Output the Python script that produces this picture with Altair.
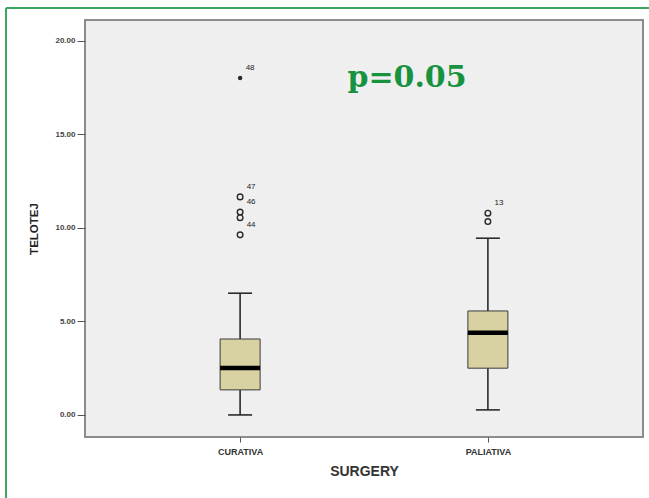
import altair as alt
import pandas as pd

categories = ["CURATIVA", "PALIATIVA"]
whisker_low = [0.0, 0.27]
q1 = [1.34, 2.50]
median = [2.51, 4.40]
q3 = [4.06, 5.56]
whisker_high = [6.51, 9.45]

outlier_group = ["CURATIVA", "CURATIVA", "CURATIVA", "CURATIVA", "PALIATIVA", "PALIATIVA"]
outlier_value = [11.66, 10.85, 10.55, 9.63, 10.79, 10.34]
outlier_label = ["47", "46", "", "44", "13", ""]

extreme_group = ["CURATIVA"]
extreme_value = [18.02]
extreme_label = ["48"]

p_text = ["p=0.05"]
p_y = [17.54]

box = pd.DataFrame({"g": categories, "lo": whisker_low, "q1": q1, "med": median,
                    "q3": q3, "hi": whisker_high})
out = pd.DataFrame({"g": outlier_group, "v": outlier_value, "lab": outlier_label})
ext = pd.DataFrame({"g": extreme_group, "v": extreme_value, "lab": extreme_label})
ann = pd.DataFrame({"t": p_text, "y": p_y})

W, H = 558, 417
ydom = [-1.18, 21.12]

x = alt.X("g:N", sort=categories,
          scale=alt.Scale(type="point", padding=0.626),
          axis=alt.Axis(title="SURGERY", labelAngle=0, labelFontSize=9, labelColor="#333",
                        labelFontWeight="bold",
                        labelPadding=5, tickSize=5, tickColor="#555", domain=False,
                        titleFontSize=14, titleFontWeight="bold", titleColor="#333",
                        titlePadding=8, titleFont="Liberation Sans", labelFont="Liberation Sans"))
yscale = alt.Scale(domain=ydom, nice=False, zero=False)
yaxis = alt.Axis(title="TELOTEJ", values=[0, 5, 10, 15, 20], format=".2f",
                 labelFontSize=8, labelColor="#444", labelFontWeight="bold",
                 tickSize=8, tickColor="#555",
                 domain=False, grid=False, labelPadding=2,
                 titleFontSize=11.5, titleFontWeight="bold", titleColor="#222",
                 titlePadding=15, titleFont="Liberation Sans", labelFont="Liberation Sans")

base = alt.Chart(box)
whisk = base.mark_rule(color="#2a2a2a", strokeWidth=1.6).encode(
    x=x, y=alt.Y("lo:Q", scale=yscale, axis=yaxis), y2="hi:Q")
caps_lo = base.mark_tick(color="#2a2a2a", size=24, thickness=1.6, opacity=1).encode(
    x=x, y=alt.Y("lo:Q", scale=yscale))
caps_hi = base.mark_tick(color="#2a2a2a", size=24, thickness=1.6, opacity=1).encode(
    x=x, y=alt.Y("hi:Q", scale=yscale))
bars = base.mark_bar(size=40, fill="#d8d2a2", stroke="#3a3a3a", strokeWidth=1,
                     opacity=1).encode(
    x=x, y=alt.Y("q1:Q", scale=yscale), y2="q3:Q")
med = base.mark_tick(color="#000", size=40, thickness=4.5, opacity=1).encode(
    x=x, y=alt.Y("med:Q", scale=yscale))

pts = alt.Chart(out).mark_point(shape="circle", filled=False, color="#2a2a2a",
                                size=32, strokeWidth=1.4, opacity=1).encode(
    x=x, y=alt.Y("v:Q", scale=yscale))
pts_lab = alt.Chart(out).mark_text(fontSize=8, dx=11, dy=-10, fill="#222",
                                   font="Liberation Sans").encode(
    x=x, y=alt.Y("v:Q", scale=yscale), text="lab:N")
ext_pts = alt.Chart(ext).mark_point(shape="circle", filled=True, color="#2a2a2a",
                                    size=20, opacity=1).encode(
    x=x, y=alt.Y("v:Q", scale=yscale))
ext_lab = alt.Chart(ext).mark_text(fontSize=8, dx=10, dy=-10, fill="#222",
                                   font="Liberation Sans").encode(
    x=x, y=alt.Y("v:Q", scale=yscale), text="lab:N")

ptxt = alt.Chart(ann).mark_text(fontSize=30, fontWeight="bold", fill="#17923f",
                                font="DejaVu Serif", align="center",
                                baseline="alphabetic").encode(
    x=alt.value(322), y=alt.Y("y:Q", scale=yscale), text="t:N")

frame_left = alt.Chart(ann).mark_rule(color="#3aa860", strokeWidth=2).encode(
    x=alt.value(-79), y=alt.value(-12), y2=alt.value(480))
frame_top = alt.Chart(ann).mark_rule(color="#3aa860", strokeWidth=2).encode(
    x=alt.value(-79), x2=alt.value(570), y=alt.value(-12))

chart = alt.layer(frame_left, frame_top, whisk, caps_lo, caps_hi, bars, med,
                  pts, pts_lab, ext_pts, ext_lab, ptxt).properties(
    width=W, height=H,
    autosize=alt.AutoSizeParams(type="none"),
    padding={"left": 85, "top": 20, "right": 6, "bottom": 61},
    background="white",
).configure_view(fill="#efefef", stroke="#8c8c8c", strokeWidth=2)

chart.save("out.html", embed_options={"renderer": "svg", "actions": False})
